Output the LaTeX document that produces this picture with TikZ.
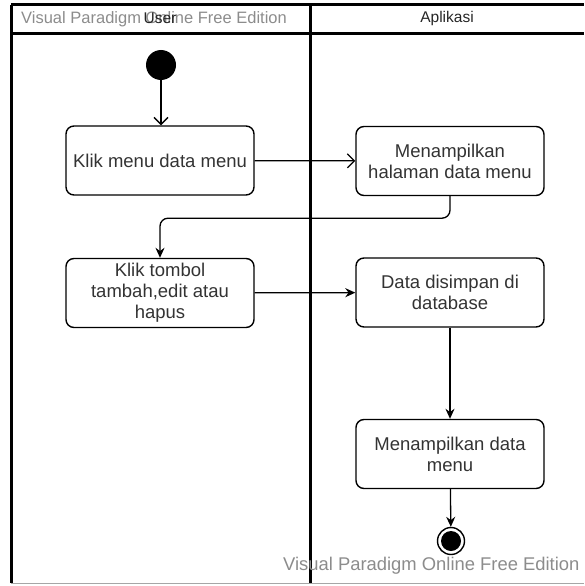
\documentclass[tikz,border=0pt]{standalone}
\usepackage{fontspec}
\setmainfont{Liberation Sans}
\usetikzlibrary{arrows.meta}
\begin{document}
\begin{tikzpicture}[x=1pt,y=-1pt,
		act/.style={draw,rounded corners=8pt,line width=1.4pt,minimum width=188pt,minimum height=69pt,inner sep=2pt,align=center,text=black!80,font=\fontsize{18.5}{21}\selectfont},
		flow/.style={-{Stealth[length=10pt,width=9pt]},line width=1.3pt},
		openflow/.style={-{Straight Barb[length=7pt,width=14pt]},line width=1.3pt},
		lane/.style={line width=3pt},
		wmark/.style={text=black!45,inner sep=0pt,anchor=west}]
			\useasboundingbox (0,0) rectangle (584,586);
			% swimlanes
			\draw[lane] (11,5) -- (584,5);
			\draw[lane] (11,34) -- (584,34);
			\draw[lane] (11,5) -- (11,583);
			\draw[lane] (310,5) -- (310,583);
			\draw[black!35,line width=1pt] (11,583) -- (584,583);
			\node[wmark,font=\fontsize{16.5}{18}\selectfont] (wm1) at (21,19) {Visual Paradigm Online Free Edition};
			\node[font=\fontsize{15.5}{18}\selectfont,text=black!85] (hUser) at (160,18) {User};
			\node[font=\fontsize{15.5}{18}\selectfont,text=black!85] (hApp) at (447,18) {Aplikasi};
			% activities
			\node[circle,fill=black,minimum size=30pt,inner sep=0pt] (start) at (161,65) {};
			\node[act] (a1) at (160,160.5) {Klik menu data menu};
			\node[act] (a2) at (450,161) {Menampilkan\\halaman data menu};
			\node[act] (a3) at (160,293) {Klik tombol\\tambah,edit atau\\hapus};
			\node[act] (a4) at (450,292.5) {Data disimpan di\\database};
			\node[act] (a5) at (450,454) {Menampilkan data\\menu};
			\node[circle,draw,line width=1.4pt,minimum size=27pt,inner sep=0pt] (stop) at (451,541) {};
			\node[circle,fill=black,minimum size=20pt,inner sep=0pt] (stopdot) at (stop) {};
			% flows
			\draw[openflow] (start) -- (start |- a1.north);
			\draw[openflow] (a1) -- (a2);
			\draw[flow,rounded corners=8pt] (a2.south) -- ++(0,22) -| (a3.north);
			\draw[flow] (a3) -- (a4);
			\draw[flow] (a4) -- (a5);
			\draw[flow] (a5) -- (stop);
			\node[wmark,font=\fontsize{18.4}{20}\selectfont] (wm2) at (283,566) {Visual Paradigm Online Free Edition};
		\end{tikzpicture}
\end{document}
